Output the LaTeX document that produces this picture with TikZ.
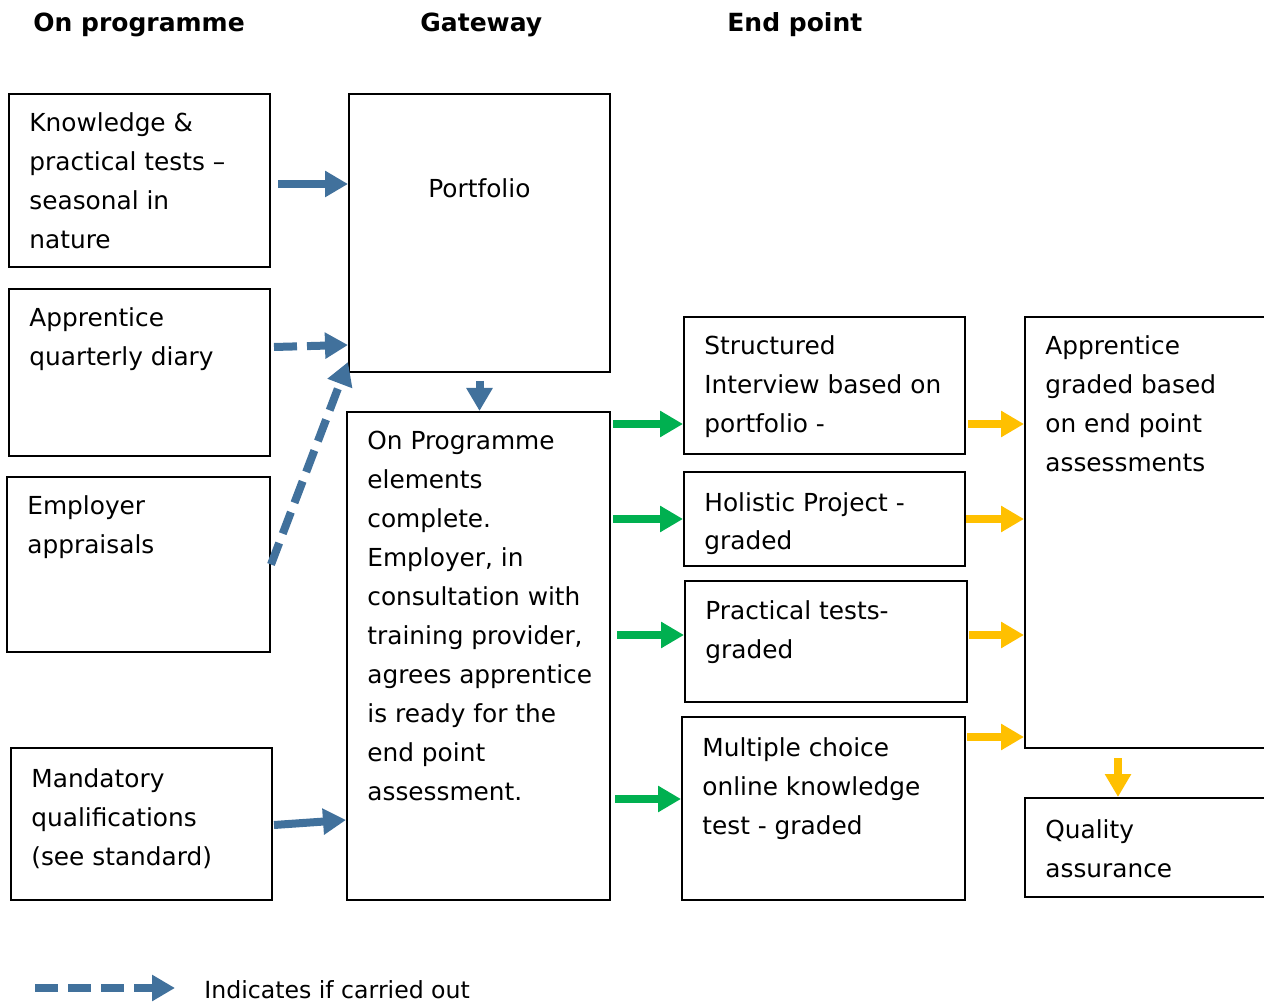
\documentclass[tikz,border=0pt]{standalone}
\usepackage{fontspec}
\setmainfont{DejaVu Sans}
\usetikzlibrary{arrows.meta,calc,fit}
\definecolor{ablue}{RGB}{65,113,156}
\definecolor{agreen}{RGB}{0,176,80}
\definecolor{ayellow}{RGB}{255,192,0}
\newcommand\mlines[1]{\begin{tabular}[t]{@{}l@{}}#1\end{tabular}}
\begin{document}
\begin{tikzpicture}[x=0.5pt,y=-0.5pt,
  box/.style={draw=black, line width=1pt, inner sep=0pt, rectangle},
  txt/.style={anchor=base west, inner sep=0pt, font=\fontsize{12.4}{19.5}\selectfont},
  hdr/.style={anchor=base west, inner sep=0pt, font=\fontsize{12.5}{15}\selectfont\bfseries},
  blk/.style={line width=4pt, -{Triangle[length=11.5pt,width=12.5pt]}},
  barrow/.style={blk, draw=ablue},
  darrow/.style={blk, draw=ablue, dash pattern=on 11.5pt off 5pt},
  garrow/.style={blk, draw=agreen},
  yarrow/.style={blk, draw=ayellow}]
\useasboundingbox (0,0) rectangle (1264,1005);
\clip (0,0) rectangle (1264,1005);
\fill[white] (0,0) rectangle (1264,1005);

% headers
\node[hdr] (h1) at (33,32) {On programme};
\node[hdr] (h2) at (420,32) {Gateway};
\node[hdr] (h3) at (727,32) {End point};

% boxes
\node[box, fit={(9,94) (270,267)}] (k) {};
\node[box, fit={(9,289) (270,456)}] (a) {};
\node[box, fit={(7,477) (270,652)}] (e) {};
\node[box, fit={(11,748) (272,900)}] (m) {};
\node[box, fit={(349,94) (610,372)}] (p) {};
\node[box, fit={(347,412) (610,900)}] (o) {};
\node[box, fit={(684,317) (965,454)}] (si) {};
\node[box, fit={(684,472) (965,566)}] (hp) {};
\node[box, fit={(685,581) (967,702)}] (pt) {};
\node[box, fit={(682,717) (965,900)}] (mc) {};
\node[box, fit={(1025,317) (1300,748)}] (ag) {};
\node[box, fit={(1025,798) (1300,897)}] (qa) {};

% texts
\node[txt] (kt) at (29,132) {\mlines{Knowledge \&\\practical tests –\\seasonal in\\nature}};
\node[txt] (pt1) at (428,198) {Portfolio};
\node[txt] (at) at (29,327) {\mlines{Apprentice\\quarterly diary}};
\node[txt] (et) at (27,515) {\mlines{Employer\\appraisals}};
\node[txt] (mt) at (31,787) {\mlines{Mandatory\\qualifications\\(see standard)}};
\node[txt] (ot) at (367,450) {\mlines{On Programme\\elements\\complete.\\Employer, in\\consultation with\\training provider,\\agrees apprentice\\is ready for the\\end point\\assessment.}};
\node[txt] (sit) at (704,355) {\mlines{Structured\\Interview based on\\portfolio -}};
\node[txt] (hpt) at (704,511) {\mlines{Holistic Project -\\graded}};
\node[txt] (ptt) at (705,619) {\mlines{Practical tests-\\graded}};
\node[txt] (mct) at (702,756) {\mlines{Multiple choice\\online knowledge\\test - graded}};
\node[txt] (agt) at (1045,355) {\mlines{Apprentice\\graded based\\on end point\\assessments}};
\node[txt] (qat) at (1045,838) {\mlines{Quality\\assurance}};

% blue arrows
\draw[barrow] ($(k.east |- 0,184)+(7,0)$) -- (p.west |- 0,184);
\draw[darrow] ($(a.east |- 0,347)+(3,0)$) -- (p.west |- 0,345);
\draw[darrow] (e.east) -- ($(p.south west)+(0,-11)$);
\draw[barrow] ($(p.south)+(0,8)$) -- (p.south |- o.north);
\draw[barrow] ($(m.east |- 0,825)+(1,0)$) -- (o.west |- 0,820);

% green arrows
\draw[garrow] ($(o.east |- 0,424)+(2,0)$) -- (si.west |- 0,424);
\draw[garrow] ($(o.east |- 0,519)+(2,0)$) -- (hp.west |- 0,519);
\draw[garrow] ($(o.east |- 0,635)+(6,0)$) -- (pt.west |- 0,635);
\draw[garrow] ($(o.east |- 0,799)+(4,0)$) -- (mc.west |- 0,799);

% yellow arrows
\draw[yarrow] ($(si.east |- 0,424)+(2,0)$) -- (ag.west |- 0,424);
\draw[yarrow] ($(hp.east |- 0,519)+(0,0)$) -- (ag.west |- 0,519);
\draw[yarrow] ($(pt.east |- 0,635)+(1,0)$) -- (ag.west |- 0,635);
\draw[yarrow] ($(mc.east |- 0,737)+(1,0)$) -- (ag.west |- 0,737);
\draw[yarrow] ($(ag.south west)+(94,9)$) -- ($(qa.north west)+(94,0)$);

% legend
\coordinate (l1) at (35,988);
\coordinate (l2) at (175,988);
\draw[darrow] (l1) -- (l2);
\node[txt, font=\fontsize{11.8}{19.5}\selectfont] (lt) at (204,998) {Indicates if carried out};
\end{tikzpicture}
\end{document}
